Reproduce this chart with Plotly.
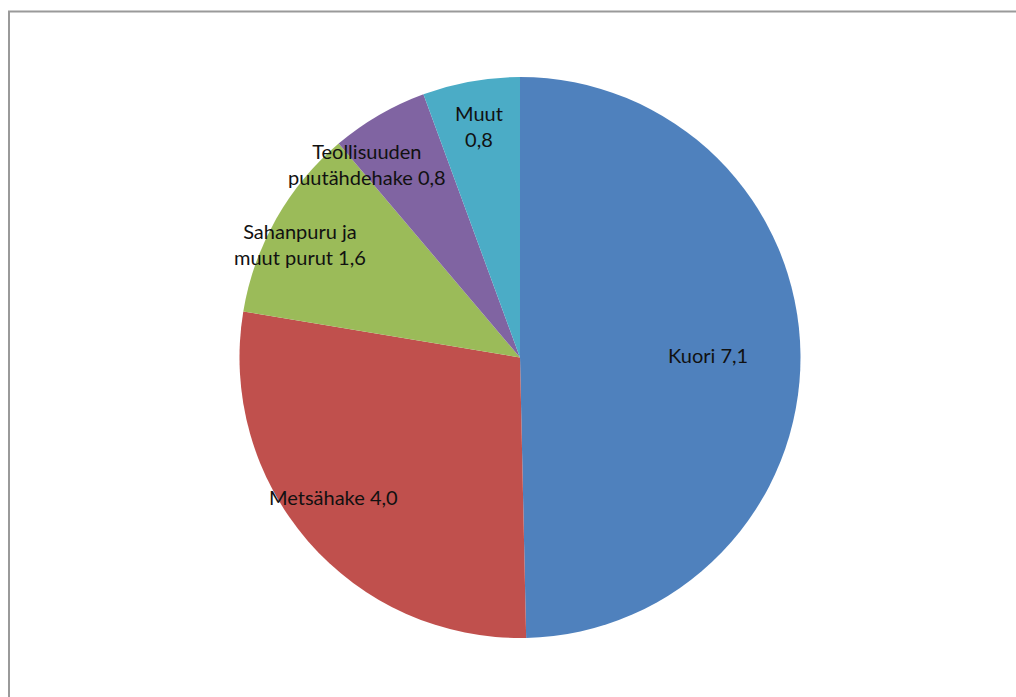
import math
import plotly.graph_objects as go

# ---- data ----
categories = ["Kuori", "Metsähake", "Sahanpuru ja muut purut", "Teollisuuden puutähdehake", "Muut"]
label_lines = ["Kuori", "Metsähake", "Sahanpuru ja<br>muut purut", "Teollisuuden<br>puutähdehake", "Muut<br>"]
values = [7.1, 4.0, 1.6, 0.8, 0.8]
colors = ["#4F81BD", "#C0504D", "#9BBB59", "#8064A2", "#4BACC6"]

# ---- layout / style ----
W, H = 1016, 697
cx, cy, R = 520.0, 357.5, 280.5          # pie centre and radius in pixels
label_radius = [0.67, 0.76, 0.82, 0.80, 0.84]  # fraction of radius for label placement
label_xshift = [0, -25, -20, -40, 0]           # small horizontal nudges (px)
font_family = "Lato, 'Liberation Sans', Arial, sans-serif"

fig = go.Figure()
fig.add_trace(go.Pie(
    labels=categories,
    values=values,
    sort=False,
    direction="clockwise",
    rotation=0,
    marker=dict(colors=colors, line=dict(width=0)),
    textinfo="none",
    hoverinfo="label+value",
    showlegend=False,
    domain=dict(x=[(cx - R) / W, (cx + R) / W], y=[(H - (cy + R)) / H, (H - (cy - R)) / H]),
))

# data labels, placed at each slice's mid-angle (computed from the values)
total = sum(values)
cum = 0.0
annotations = []
for name, v, frac, xs in zip(label_lines, values, label_radius, label_xshift):
    mid = (cum + v / 2) / total * 2 * math.pi
    cum += v
    px = cx + frac * R * math.sin(mid)
    py = cy - frac * R * math.cos(mid)
    txt = name + ("" if name.endswith("<br>") else " ") + f"{v:.1f}".replace(".", ",")
    annotations.append(dict(
        x=px / W, y=1 - py / H, xref="paper", yref="paper", xshift=xs,
        text=txt, showarrow=False, xanchor="center", yanchor="middle",
        align="center", font=dict(family=font_family, size=20, color="#111111"),
    ))

fig.update_layout(
    width=W, height=H,
    margin=dict(l=0, r=0, t=0, b=0),
    paper_bgcolor="white",
    plot_bgcolor="white",
    annotations=annotations,
    shapes=[dict(
        type="rect", xref="paper", yref="paper",
        x0=9 / W, x1=1.02, y0=-0.02, y1=1 - 11.5 / H,
        line=dict(color="#9a9a9a", width=2), fillcolor="rgba(0,0,0,0)", layer="below",
    )],
)

fig.write_html("out.html")
